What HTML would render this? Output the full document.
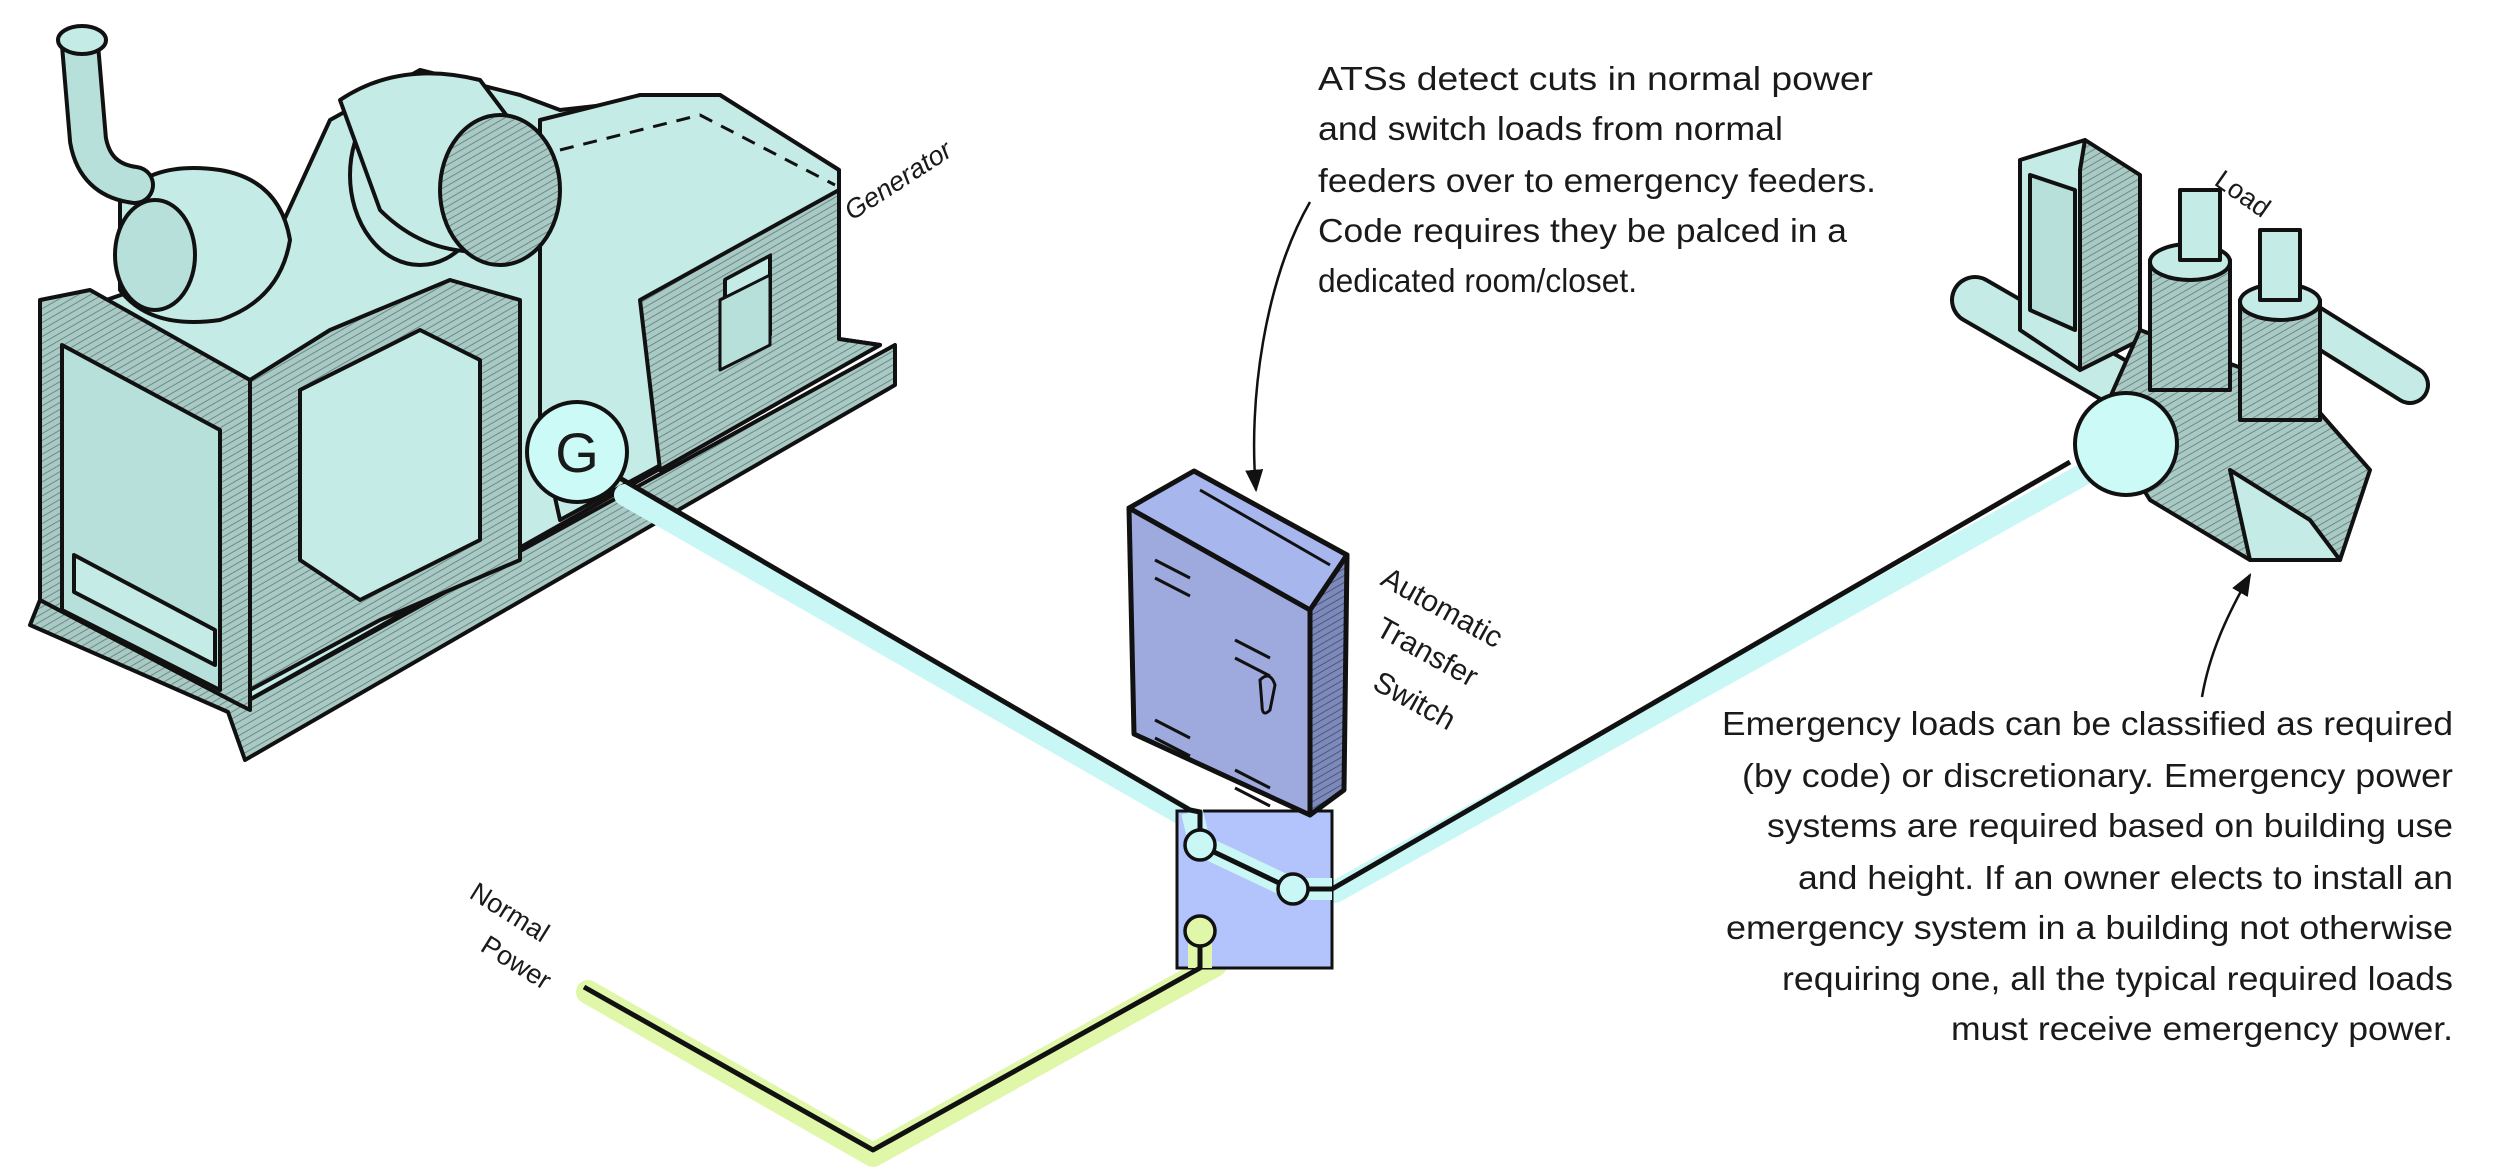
<!DOCTYPE html>
<html><head><meta charset="utf-8"><style>
html,body{margin:0;padding:0;background:#fff}
svg{display:block}
text{font-family:"Liberation Sans",sans-serif;fill:#1a1a1a}
</style></head><body>
<svg width="2500" height="1168" viewBox="0 0 2500 1168" xmlns="http://www.w3.org/2000/svg">
<defs>
<pattern id="h" width="6" height="6" patternUnits="userSpaceOnUse" patternTransform="rotate(60)">
<rect width="6" height="6" fill="#a9c9c4"/><line x1="0" y1="0" x2="0" y2="6" stroke="#6d8a86" stroke-width="2"/></pattern>
<pattern id="hb" width="6" height="6" patternUnits="userSpaceOnUse" patternTransform="rotate(60)">
<rect width="6" height="6" fill="#7d89b8"/><line x1="0" y1="0" x2="0" y2="6" stroke="#4d5680" stroke-width="2"/></pattern>
<marker id="ah" viewBox="0 0 10 10" refX="9" refY="5" markerWidth="9" markerHeight="9" orient="auto"><path d="M0,1 L10,5 L0,9 Z" fill="#111"/></marker>
</defs>

<!-- ===== GENERATOR ===== -->
<g stroke="#111" stroke-width="4" stroke-linejoin="round">
<!-- skid base -->
<polygon points="40,600 240,705 895,345 895,385 245,760 228,712 30,625" fill="url(#h)"/>
<!-- main body -->
<polygon points="40,323 274,242 330,120 420,70 520,95 560,110 650,100 720,95 839,170 839,339 880,345 240,705 40,600" fill="#c4ebe5"/>
<!-- generator housing right -->
<polygon points="540,120 640,95 720,95 839,170 839,339 880,345 560,520 540,430" fill="#c4ebe5"/>
<polygon points="640,300 839,190 839,339 880,345 660,470" fill="url(#h)"/>
<rect x="725" y="285" width="45" height="80" fill="#c4ebe5" transform="skewY(-28) translate(0,380)"/>
<polyline points="560,150 700,115 835,185" fill="none" stroke-dasharray="14 10" stroke-width="3"/>
<!-- radiator -->
<polygon points="40,300 90,290 250,380 250,710 240,705 40,600" fill="url(#h)"/>
<polygon points="62,345 220,430 220,690 62,610" fill="#b7e0da"/>
<polygon points="74,555 215,630 215,665 74,592" fill="#c4ebe5"/>
<!-- engine block shading -->
<polygon points="250,380 330,330 450,280 520,300 520,560 380,620 250,690" fill="url(#h)"/>
<polygon points="300,390 420,330 480,360 480,540 360,600 300,560" fill="#c4ebe5"/>
<!-- mufflers -->
<ellipse cx="420" cy="175" rx="70" ry="90" fill="#c4ebe5"/>
<path d="M340,100 Q400,60 480,80 L540,160 L500,250 Q430,260 380,210 Z" fill="#c4ebe5"/>
<ellipse cx="500" cy="190" rx="60" ry="75" fill="url(#h)"/>
<path d="M120,200 Q150,160 220,170 Q280,180 290,240 Q280,300 220,320 Q150,330 120,290 Z" fill="#c4ebe5"/>
<ellipse cx="155" cy="255" rx="40" ry="55" fill="#b7e0da"/>
<!-- exhaust pipe -->
<path d="M80,45 L88,140 Q95,180 135,185" fill="none" stroke="#111" stroke-width="40" stroke-linecap="round"/>
<path d="M80,45 L88,140 Q95,180 135,185" fill="none" stroke="#b7e0da" stroke-width="32" stroke-linecap="round"/>
<ellipse cx="82" cy="40" rx="24" ry="14" fill="#c4ebe5"/>
<!-- control panel -->
<polygon points="720,300 770,275 770,345 720,370" fill="#b7e0da" stroke-width="3"/>
</g>
<!-- G circle -->
<!-- ===== WIRES ===== -->
<!-- cyan generator band -->
<path d="M625,495 L1192,820 L1205,845 L1295,895 L1335,892 L2095,468" fill="none" stroke="#c8f7f5" stroke-width="22" stroke-linecap="round" stroke-linejoin="round"/>
<!-- green normal band -->
<path d="M588,992 L873,1155 L1215,965 L1203,935" fill="none" stroke="#e0f7aa" stroke-width="24" stroke-linecap="round" stroke-linejoin="round"/>

<!-- ATS small box -->
<rect x="1177" y="811" width="155" height="157" fill="#b3c3fb" stroke="#111" stroke-width="3"/>
<path d="M1192,812 L1200,845 L1293,889 L1332,889" fill="none" stroke="#c8f7f5" stroke-width="22" stroke-linejoin="round"/>
<path d="M1200,935 L1200,968" fill="none" stroke="#e0f7aa" stroke-width="24"/>

<!-- black lines -->
<g fill="none" stroke="#111" stroke-width="5" stroke-linejoin="round">
<path d="M618,477 L1190,810 L1200,812 L1200,830"/>
<path d="M1214,852 L1279,883"/>
<path d="M1308,889 L1332,889 L2070,462"/>
<path d="M584,987 L873,1150 L1200,968 L1200,946"/>
</g>
<g stroke="#111" stroke-width="3.5">
<circle cx="1200" cy="845" r="15" fill="#c8f7f5"/>
<circle cx="1293" cy="889" r="15" fill="#c8f7f5"/>
<circle cx="1200" cy="931" r="15" fill="#e0f7aa"/>
</g>
<circle cx="577" cy="452" r="50" fill="#ccfaf6" stroke="#111" stroke-width="4"/>
<text x="577" y="472" font-size="56" text-anchor="middle">G</text>

<!-- ===== ATS CABINET ===== -->
<g stroke="#111" stroke-width="5" stroke-linejoin="round">
<polygon points="1129,508 1194,471 1347,555 1310,610" fill="#a8b6ee"/>
<polygon points="1310,610 1347,555 1344,790 1310,815" fill="url(#hb)"/>
<polygon points="1129,508 1310,610 1310,815 1134,734" fill="#9eaade"/>
</g>
<g fill="none" stroke="#111" stroke-width="3">
<path d="M1155,560 l35,18 M1155,578 l35,18 M1235,640 l35,18 M1235,658 l35,18 M1155,720 l35,18 M1155,738 l35,18 M1235,770 l35,18 M1235,788 l35,18"/>
<path d="M1260,680 q10,-10 15,5 l-5,25 q-8,8 -8,-5 z"/>
<path d="M1200,490 L1330,565"/>
</g>

<!-- ===== LOAD ===== -->
<g stroke="#111" stroke-width="4" stroke-linejoin="round">
<path d="M1975,300 L2330,505" stroke="#111" stroke-width="50" stroke-linecap="round" fill="none"/>
<path d="M1975,300 L2330,505" stroke="#c4ebe5" stroke-width="42" stroke-linecap="round" fill="none"/>
<path d="M2290,310 L2410,385" stroke="#111" stroke-width="40" stroke-linecap="round" fill="none"/>
<path d="M2290,310 L2410,385" stroke="#c4ebe5" stroke-width="32" stroke-linecap="round" fill="none"/>
<polygon points="2020,160 2085,140 2140,175 2140,340 2080,370 2020,330" fill="#c4ebe5"/>
<polygon points="2085,140 2140,175 2140,340 2080,370 2080,170" fill="url(#h)"/>
<polygon points="2030,175 2075,190 2075,330 2030,310" fill="#b7e0da"/>
<polygon points="2140,330 2300,390 2370,470 2340,560 2250,560 2150,500 2100,420" fill="url(#h)"/>
<rect x="2150" y="260" width="80" height="130" fill="url(#h)"/>
<ellipse cx="2190" cy="262" rx="40" ry="18" fill="#c4ebe5"/>
<rect x="2240" y="300" width="80" height="120" fill="url(#h)"/>
<ellipse cx="2280" cy="302" rx="40" ry="18" fill="#c4ebe5"/>
<rect x="2180" y="190" width="40" height="70" fill="#c4ebe5"/>
<rect x="2260" y="230" width="40" height="70" fill="#c4ebe5"/>
<polygon points="2230,470 2310,520 2340,560 2250,560" fill="#c4ebe5"/>
</g>
<circle cx="2126" cy="444" r="51" fill="#ccfaf6" stroke="#111" stroke-width="4"/>

<!-- ===== ARROWS ===== -->
<path d="M1310,202 C1265,280 1248,400 1256,490" fill="none" stroke="#111" stroke-width="2.5" marker-end="url(#ah)"/>
<path d="M2202,697 C2210,650 2230,610 2250,575" fill="none" stroke="#111" stroke-width="2.5" marker-end="url(#ah)"/>

<!-- ===== TEXT ===== -->
<g font-size="33">
<text x="1318" y="90" textLength="555" lengthAdjust="spacingAndGlyphs">ATSs detect cuts in normal power</text>
<text x="1318" y="140" textLength="465" lengthAdjust="spacingAndGlyphs">and switch loads from normal</text>
<text x="1318" y="192" textLength="558" lengthAdjust="spacingAndGlyphs">feeders over to emergency feeders.</text>
<text x="1318" y="242" textLength="529" lengthAdjust="spacingAndGlyphs">Code requires they be palced in a</text>
<text x="1318" y="292" textLength="319" lengthAdjust="spacingAndGlyphs">dedicated room/closet.</text>
</g>
<g font-size="33">
<text x="1722" y="735" textLength="731" lengthAdjust="spacingAndGlyphs">Emergency loads can be classified as required</text>
<text x="1742" y="787" textLength="711" lengthAdjust="spacingAndGlyphs">(by code) or discretionary. Emergency power</text>
<text x="1767" y="837" textLength="686" lengthAdjust="spacingAndGlyphs">systems are required based on building use</text>
<text x="1798" y="889" textLength="655" lengthAdjust="spacingAndGlyphs">and height. If an owner elects to install an</text>
<text x="1726" y="939" textLength="727" lengthAdjust="spacingAndGlyphs">emergency system in a building not otherwise</text>
<text x="1782" y="990" textLength="671" lengthAdjust="spacingAndGlyphs">requiring one, all the typical required loads</text>
<text x="1951" y="1040" textLength="502" lengthAdjust="spacingAndGlyphs">must receive emergency power.</text>
</g>
<text x="852" y="221" font-size="27" font-style="italic" fill="#333" transform="rotate(-33 852 221)">Generator</text>
<text x="2213" y="184" font-size="27" fill="#333" transform="rotate(35 2213 184)">Load</text>
<g font-size="30" fill="#333">
<text x="1379" y="584" transform="rotate(29 1379 584)">Automatic</text>
<text x="1374" y="634" transform="rotate(29 1374 634)">Transfer</text>
<text x="1371" y="688" transform="rotate(29 1371 688)">Switch</text>
</g>
<g font-size="27" fill="#333">
<text x="468" y="897" transform="rotate(32 468 897)">Normal</text>
<text x="479" y="950" transform="rotate(32 479 950)">Power</text>
</g>
</svg>
</body></html>
